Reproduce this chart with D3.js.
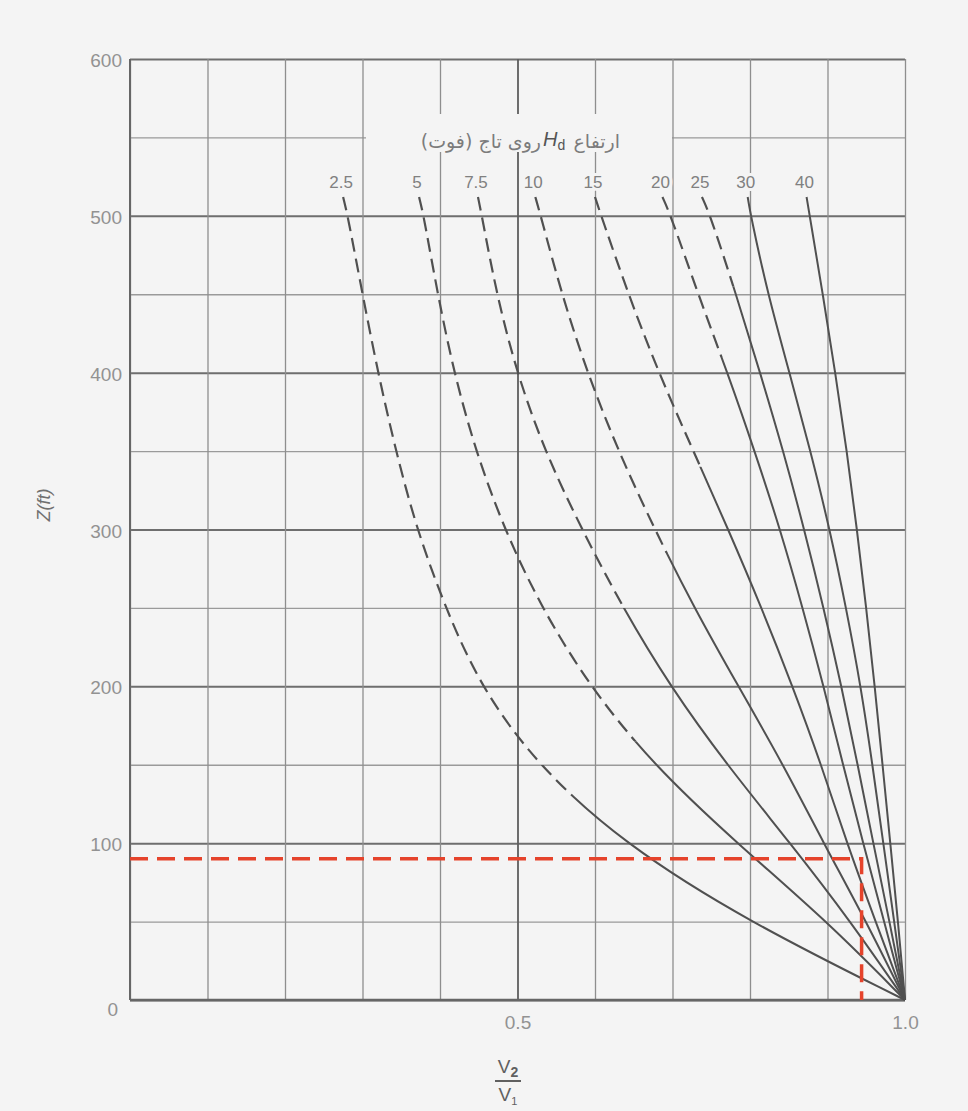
<!DOCTYPE html>
<html>
<head>
<meta charset="utf-8">
<script src="https://cdn.jsdelivr.net/npm/d3@7"></script>
<style>
  body { margin: 0; background: #f4f4f4; }
  svg { display: block; }
  .tick text { font-family: "Liberation Sans", sans-serif; fill: #929292; }
</style>
</head>
<body>
<svg width="968" height="1111"></svg>
<script>
// depth levels (ft) where each curve was read
var zLevels = [512, 500, 450, 400, 350, 300, 250, 200, 150, 100, 50, 0];

// head over crest Hd (ft)
var heads = ["2.5", "5", "7.5", "10", "15", "20", "25", "30", "40"];

// V2/V1 for each head at the zLevels above
var ratio2_5 = [0.275, 0.281, 0.300, 0.320, 0.343, 0.370, 0.407, 0.452, 0.525, 0.636, 0.797, 1.0];
var ratio5   = [0.373, 0.379, 0.397, 0.418, 0.446, 0.483, 0.531, 0.593, 0.675, 0.783, 0.900, 1.0];
var ratio7_5 = [0.449, 0.454, 0.473, 0.499, 0.535, 0.583, 0.636, 0.697, 0.770, 0.852, 0.930, 1.0];
var ratio10  = [0.523, 0.530, 0.557, 0.590, 0.630, 0.677, 0.728, 0.785, 0.843, 0.895, 0.950, 1.0];
var ratio15  = [0.600, 0.608, 0.643, 0.682, 0.727, 0.772, 0.815, 0.855, 0.892, 0.925, 0.962, 1.0];
var ratio20  = [0.687, 0.698, 0.733, 0.771, 0.806, 0.839, 0.868, 0.895, 0.920, 0.946, 0.973, 1.0];
var ratio25  = [0.738, 0.749, 0.782, 0.813, 0.843, 0.870, 0.895, 0.918, 0.939, 0.959, 0.980, 1.0];
var ratio30  = [0.797, 0.801, 0.823, 0.851, 0.878, 0.903, 0.924, 0.943, 0.958, 0.972, 0.986, 1.0];
var ratio40  = [0.873, 0.877, 0.894, 0.910, 0.925, 0.938, 0.950, 0.961, 0.971, 0.981, 0.991, 1.0];

// curves are drawn dashed above this depth (null = solid all the way)
var dashAbove = [130, 165, 250, 285, 340, 410, 455, null, null];

// worked example (red)
var exampleZ = 90;
var exampleRatio = 0.944;

var yTicks = [0, 100, 200, 300, 400, 500, 600];
var xTicks = [0.5, 1.0];

var allRatios = [ratio2_5, ratio5, ratio7_5, ratio10, ratio15, ratio20, ratio25, ratio30, ratio40];

var curves = heads.map(function(h, i) {
    return {
        head: h,
        dash: dashAbove[i],
        points: zLevels.map(function(z, j) { return {z: z, r: allRatios[i][j]}; })
    };
});

var svg = d3.select("svg"),
    plotLeft = 130, plotRight = 905, plotTop = 59, plotBottom = 1000;

var x = d3.scaleLinear().domain([0, 1]).range([plotLeft, plotRight]);
var y = d3.scaleLinear().domain([0, 600]).range([plotBottom, plotTop]);

svg.append("rect")
    .attr("width", 968).attr("height", 1111)
    .attr("fill", "#f4f4f4");

// grid
var gy = svg.append("g")
    .attr("transform", "translate(" + plotLeft + ",0)")
    .call(d3.axisLeft(y).tickValues(d3.range(0, 601, 50)).tickSize(-(plotRight - plotLeft)).tickFormat(""));
gy.select(".domain").remove();
gy.selectAll(".tick line")
    .attr("stroke", function(d) { return d % 100 === 0 ? "#6e6e6e" : "#9a9a9a"; })
    .attr("stroke-width", function(d) { return d % 100 === 0 ? 2 : 1.3; });

var gx = svg.append("g")
    .attr("transform", "translate(0," + plotBottom + ")")
    .call(d3.axisBottom(x).tickValues(d3.range(0, 1.001, 0.1)).tickSize(-(plotBottom - plotTop)).tickFormat(""));
gx.select(".domain").remove();
gx.selectAll(".tick line")
    .attr("stroke", function(d) { return Math.abs(d - 0.5) < 1e-6 ? "#5e5e5e" : "#8e8e8e"; })
    .attr("stroke-width", function(d) { return Math.abs(d - 0.5) < 1e-6 ? 1.8 : 1.3; });

// frame
svg.append("line")
    .attr("x1", x(0)).attr("x2", x(0)).attr("y1", y(600)).attr("y2", y(0))
    .attr("stroke", "#666").attr("stroke-width", 2);
svg.append("line")
    .attr("x1", x(0)).attr("x2", x(1)).attr("y1", y(0)).attr("y2", y(0))
    .attr("stroke", "#666").attr("stroke-width", 2.5);

// gap in the grid behind the heading
svg.append("rect")
    .attr("x", 366).attr("y", 114).attr("width", 306).attr("height", 38)
    .attr("fill", "#f4f4f4");

// tick labels
var ya = svg.append("g")
    .attr("transform", "translate(" + (plotLeft - 8) + ",0)")
    .call(d3.axisLeft(y).tickValues(yTicks).tickSize(0).tickPadding(0));
ya.select(".domain").remove();
ya.selectAll("text")
    .attr("font-size", 19)
    .attr("dy", function(d) { return d === 0 ? "0.8em" : "0.4em"; })
    .attr("dx", function(d) { return d === 0 ? -4 : 0; });

var xa = svg.append("g")
    .attr("transform", "translate(0," + (plotBottom + 12) + ")")
    .call(d3.axisBottom(x).tickValues(xTicks).tickSize(0).tickFormat(d3.format(".1f")));
xa.select(".domain").remove();
xa.selectAll("text").attr("font-size", 19);

// curves
var line = d3.line()
    .curve(d3.curveBasis)
    .x(function(d) { return x(d.r); })
    .y(function(d) { return y(d.z); });

var defs = svg.append("defs");

curves.forEach(function(c, i) {
    var split = c.dash === null ? 0 : y(c.dash);

    defs.append("clipPath").attr("id", "above" + i)
        .append("rect").attr("x", 0).attr("y", 0).attr("width", 968).attr("height", split);
    defs.append("clipPath").attr("id", "below" + i)
        .append("rect").attr("x", 0).attr("y", split).attr("width", 968).attr("height", 1111 - split);

    svg.append("path")
        .datum(c.points)
        .attr("clip-path", "url(#above" + i + ")")
        .attr("fill", "none")
        .attr("stroke", "#505050")
        .attr("stroke-width", 2.2)
        .attr("stroke-dasharray", "14,7")
        .attr("d", line);

    svg.append("path")
        .datum(c.points)
        .attr("clip-path", "url(#below" + i + ")")
        .attr("fill", "none")
        .attr("stroke", "#505050")
        .attr("stroke-width", 2)
        .attr("d", line);

    svg.append("text")
        .attr("x", x(c.points[0].r) - 2)
        .attr("y", y(c.points[0].z) - 9)
        .attr("text-anchor", "middle")
        .attr("font-family", "Liberation Sans, sans-serif")
        .attr("font-size", 17)
        .attr("fill", "#808080")
        .attr("stroke", "#f4f4f4")
        .attr("stroke-width", 6)
        .attr("paint-order", "stroke")
        .text(c.head);
});

// red example
svg.append("path")
    .datum([{z: exampleZ, r: 0}, {z: exampleZ, r: exampleRatio}, {z: 0, r: exampleRatio}])
    .attr("fill", "none")
    .attr("stroke", "#e5432b")
    .attr("stroke-width", 3.5)
    .attr("stroke-dasharray", "18,9")
    .attr("d", d3.line().x(function(d) { return x(d.r); }).y(function(d) { return y(d.z); }));

// heading: ارتفاع Hd روی تاج (فوت)
svg.append("text")
    .attr("x", 620).attr("y", 148)
    .attr("text-anchor", "end")
    .attr("font-family", "DejaVu Sans, sans-serif")
    .attr("font-size", 19)
    .attr("fill", "#7c7c7c")
    .text("ارتفاع");
var hd = svg.append("text")
    .attr("x", 543).attr("y", 146)
    .attr("font-family", "Liberation Sans, sans-serif")
    .attr("font-style", "italic")
    .attr("font-size", 20)
    .attr("fill", "#555");
hd.append("tspan").text("H");
hd.append("tspan").attr("dy", 4).attr("font-size", 14).attr("font-style", "normal").text("d");
svg.append("text")
    .attr("x", 541).attr("y", 148)
    .attr("direction", "rtl")
    .attr("text-anchor", "start")
    .attr("font-family", "DejaVu Sans, sans-serif")
    .attr("font-size", 19)
    .attr("fill", "#7c7c7c")
    .text("روی تاج (فوت)");

// axis titles
svg.append("text")
    .attr("transform", "translate(50,505) rotate(-90)")
    .attr("text-anchor", "middle")
    .attr("font-family", "Liberation Sans, sans-serif")
    .attr("font-style", "italic")
    .attr("font-size", 18)
    .attr("fill", "#707070")
    .text("Z(ft)");

var frac = svg.append("g").attr("transform", "translate(508,0)");
var num = frac.append("text")
    .attr("y", 1073).attr("text-anchor", "middle")
    .attr("font-family", "Liberation Sans, sans-serif")
    .attr("font-size", 19).attr("fill", "#606060");
num.append("tspan").text("V");
num.append("tspan").attr("dy", 4).attr("font-size", 14).attr("font-weight", "bold").text("2");
frac.append("line")
    .attr("x1", -13).attr("x2", 13).attr("y1", 1081).attr("y2", 1081)
    .attr("stroke", "#606060").attr("stroke-width", 2);
var den = frac.append("text")
    .attr("y", 1101).attr("text-anchor", "middle")
    .attr("font-family", "Liberation Sans, sans-serif")
    .attr("font-size", 19).attr("fill", "#606060");
den.append("tspan").text("V");
den.append("tspan").attr("dy", 4).attr("font-size", 11).text("1");
</script>
</body>
</html>
